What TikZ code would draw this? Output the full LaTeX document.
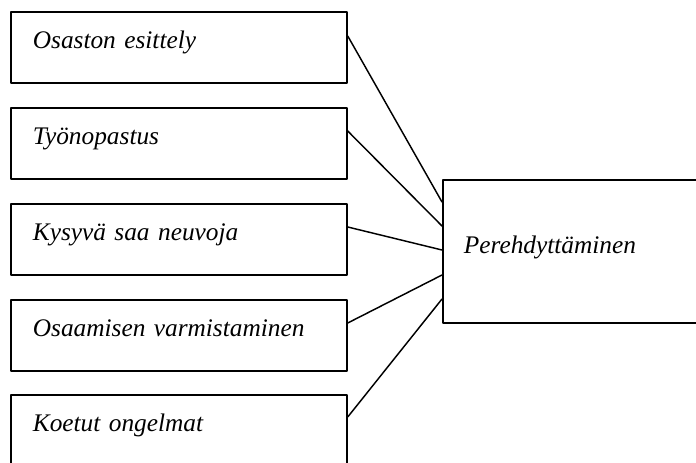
\documentclass[tikz,border=0pt]{standalone}
\usepackage{fontspec}
\setmainfont{Liberation Serif}
\tikzset{
  osabox/.style={draw, line width=1.3pt, anchor=north west, align=left,
    text width=219pt, inner xsep=16.5pt, inner ysep=0pt,
    text height=27.75pt, text depth=25.5pt,
    font=\fontsize{19pt}{23pt}\selectfont\itshape},
  paabox/.style={draw, line width=1.3pt, anchor=north west, align=left,
    text width=240pt, inner xsep=15.75pt, inner ysep=0pt,
    text height=55.5pt, text depth=51.75pt,
    font=\fontsize{19pt}{23pt}\selectfont\itshape},
  yhteys/.style={line width=1.1pt}
}
\begin{document}
\begin{tikzpicture}[line cap=round,line join=round,x=0.75pt,y=-0.75pt]
				\clip (0,0) rectangle (696,463);
				\node[osabox] (esittely) at (10,11) {Osaston esittely};
				\node[osabox] (opastus) at (10,107) {Työnopastus};
				\node[osabox] (neuvot) at (10,203) {Kysyvä saa neuvoja};
				\node[osabox] (varmistus) at (10,299) {Osaamisen varmistaminen};
				\node[osabox] (ongelmat) at (10,394) {Koetut ongelmat};
				\node[paabox] (pereh) at (442,179) {Perehdyttäminen};
				% yhteydet
				\draw [yhteys] ([yshift=-18.75pt]esittely.north east) -- ([yshift=-17.25pt]pereh.north west);
				\draw [yhteys] ([yshift=-18pt]opastus.north east) -- ([yshift=-35.25pt]pereh.north west);
				\draw [yhteys] ([yshift=-18pt]neuvot.north east) -- ([yshift=-53.25pt]pereh.north west);
				\draw [yhteys] ([yshift=-18pt]varmistus.north east) -- ([yshift=-72pt]pereh.north west);
				\draw [yhteys] ([yshift=-17.25pt]ongelmat.north east) -- ([yshift=-90pt]pereh.north west);
\end{tikzpicture}
\end{document}
